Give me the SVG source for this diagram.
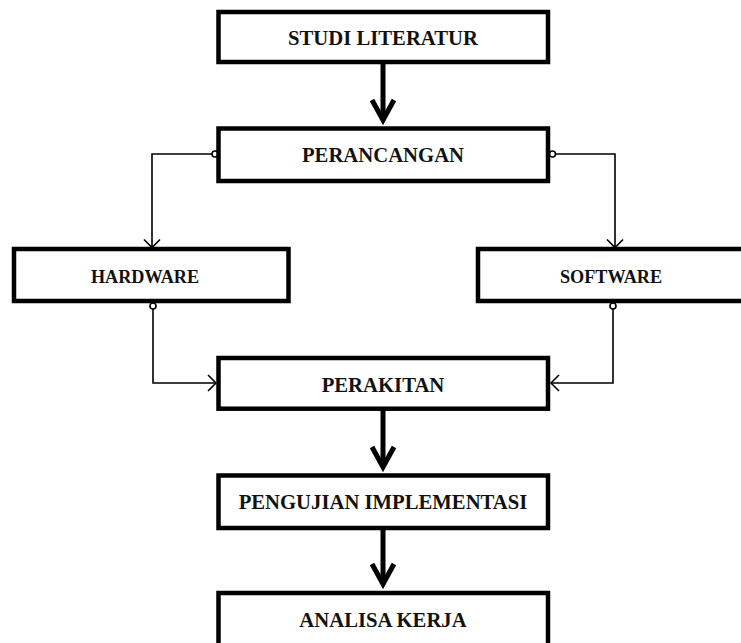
<svg xmlns="http://www.w3.org/2000/svg" width="741" height="643" viewBox="0 0 741 643">
<style>
.box{fill:#fff;stroke:#000;stroke-width:4.5}
.lbl{font-family:"Liberation Serif","Times New Roman",serif;font-weight:bold;font-size:20.7px;text-anchor:middle;fill:#111}
.sm{font-size:18.2px}
.thick{fill:none;stroke:#000;stroke-width:5}
.thin{fill:none;stroke:#000;stroke-width:1.6}
.dot{fill:#fff;stroke:#000;stroke-width:1.6}
</style>
<defs>
<marker id="big" markerUnits="userSpaceOnUse" viewBox="0 0 30 32" refX="24" refY="16" markerWidth="30" markerHeight="32" orient="auto">
<path d="M4,5 L24,16 L4,27" fill="none" stroke="#000" stroke-width="5" stroke-linejoin="miter"/>
</marker>
<marker id="small" markerUnits="userSpaceOnUse" viewBox="0 0 12 18" refX="10" refY="9" markerWidth="12" markerHeight="18" orient="auto">
<path d="M2,1 L10,9 L2,17" fill="none" stroke="#000" stroke-width="1.6"/>
</marker>
</defs>
<rect width="741" height="643" fill="#fff"/>
<g id="connectors">
<line class="thick" x1="383" y1="62" x2="383" y2="120" marker-end="url(#big)"/>
<line class="thick" x1="383" y1="409" x2="383" y2="467" marker-end="url(#big)"/>
<line class="thick" x1="383" y1="528" x2="383" y2="584" marker-end="url(#big)"/>
<path class="thin" d="M212,154 H152 V247.5" marker-end="url(#small)"/>
<path class="thin" d="M556,154 H615 V247.5" marker-end="url(#small)"/>
<path class="thin" d="M153,309 V383 H216" marker-end="url(#small)"/>
<path class="thin" d="M613,309 V383 H551" marker-end="url(#small)"/>
<circle class="dot" cx="215" cy="154" r="3"/>
<circle class="dot" cx="552.5" cy="154" r="3"/>
<circle class="dot" cx="153" cy="306" r="3"/>
<circle class="dot" cx="613" cy="306" r="3"/>
</g>
<g id="studi"><rect class="box" x="218.5" y="12" width="329.5" height="50"/><text class="lbl" x="383" y="44.5">STUDI LITERATUR</text></g>
<g id="perancangan"><rect class="box" x="218.5" y="128.5" width="329.5" height="52.5"/><text class="lbl" x="383" y="161.5">PERANCANGAN</text></g>
<g id="hardware"><rect class="box" x="14" y="249" width="274.5" height="52"/><text class="lbl sm" x="145" y="283">HARDWARE</text></g>
<g id="software"><rect class="box" x="478" y="249" width="268" height="52"/><text class="lbl sm" x="611" y="283">SOFTWARE</text></g>
<g id="perakitan"><rect class="box" x="218.5" y="358" width="329.5" height="50.7"/><text class="lbl" x="383" y="392">PERAKITAN</text></g>
<g id="pengujian"><rect class="box" x="218.5" y="475.5" width="329.5" height="52.5"/><text class="lbl" x="383" y="509">PENGUJIAN IMPLEMENTASI</text></g>
<g id="analisa"><rect class="box" x="218.5" y="593" width="329.5" height="60"/><text class="lbl" x="383" y="627">ANALISA KERJA</text></g>
</svg>
